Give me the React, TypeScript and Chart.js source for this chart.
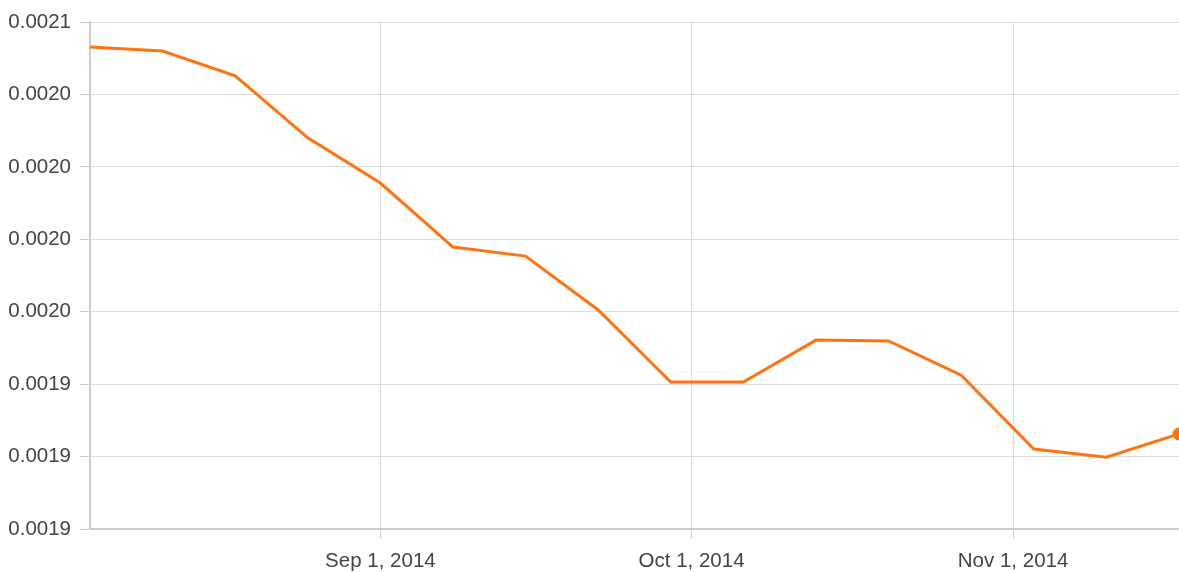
import React, { useEffect, useRef } from "react";
import { Chart, registerables } from "chart.js";

Chart.register(...registerables);

// Weekly observations starting Aug 4, 2014 (day offsets from Aug 4)
const dayOffsets = [0, 7, 14, 21, 28, 35, 42, 49, 56, 63, 70, 77, 84, 91, 98, 105];
const dateLabels = [
  "Aug 4, 2014", "Aug 11, 2014", "Aug 18, 2014", "Aug 25, 2014",
  "Sep 1, 2014", "Sep 8, 2014", "Sep 15, 2014", "Sep 22, 2014",
  "Sep 29, 2014", "Oct 6, 2014", "Oct 13, 2014", "Oct 20, 2014",
  "Oct 27, 2014", "Nov 3, 2014", "Nov 10, 2014", "Nov 17, 2014",
];
const seriesValues = [
  0.0020414, 0.00204, 0.0020314, 0.00201, 0.0019944, 0.0019723, 0.0019692, 0.0019506,
  0.0019257, 0.0019257, 0.0019402, 0.0019399, 0.0019281, 0.0019026, 0.0018998, 0.0019078,
];

const xTickDays = [28, 58, 89];
const xTickLabels = ["Sep 1, 2014", "Oct 1, 2014", "Nov 1, 2014"];

const yTickValues = [0.001875, 0.0019, 0.001925, 0.00195, 0.001975, 0.002, 0.002025, 0.00205];
const yTickLabels = ["0.0019", "0.0019", "0.0019", "0.0020", "0.0020", "0.0020", "0.0020", "0.0021"];

const FONT = "'Liberation Sans', Arial, Helvetica, sans-serif";

export default function App() {
  const canvasRef = useRef<HTMLCanvasElement | null>(null);

  useEffect(() => {
    if (!canvasRef.current) return;
    const last = seriesValues.length - 1;
    const chart = new Chart(canvasRef.current, {
      type: "line",
      data: {
        labels: dateLabels,
        datasets: [
          {
            data: dayOffsets.map((d, i) => ({ x: d, y: seriesValues[i] })),
            borderColor: "#ff7410",
            backgroundColor: "#ff7410",
            borderWidth: 3,
            tension: 0,
            pointRadius: (ctx: any) => (ctx.dataIndex === last ? 5 : 0),
            pointHoverRadius: 5,
            fill: false,
          },
        ],
      },
      options: {
        responsive: false,
        animation: false,
        layout: { autoPadding: false, padding: { top: 22, right: 0, left: 0, bottom: 0 } },
        plugins: { legend: { display: false }, tooltip: { enabled: false } },
        scales: {
          x: {
            type: "linear",
            min: 0,
            max: 105,
            afterBuildTicks: (scale: any) => {
              scale.ticks = xTickDays.map((v) => ({ value: v }));
            },
            afterFit: (scale: any) => {
              scale.height = 43;
              scale.paddingRight = 0;
              scale.paddingLeft = 0;
            },
            ticks: {
              autoSkip: false,
              maxRotation: 0,
              padding: 10,
              color: "#444",
              font: { family: FONT, size: 20.5 },
              callback: (value: any) => {
                const i = xTickDays.indexOf(Number(value));
                return i >= 0 ? xTickLabels[i] : "";
              },
            },
            grid: { color: "#dddddd", tickColor: "#cccccc", tickLength: 10, lineWidth: 1 },
            border: { color: "#cccccc", width: 2 },
          },
          y: {
            type: "linear",
            min: 0.001875,
            max: 0.00205,
            afterBuildTicks: (scale: any) => {
              scale.ticks = yTickValues.map((v) => ({ value: v }));
            },
            afterFit: (scale: any) => {
              scale.width = 90;
            },
            ticks: {
              padding: 9,
              color: "#444",
              font: { family: FONT, size: 20.5 },
              callback: (_value: any, index: number) => yTickLabels[index] ?? "",
            },
            grid: { color: "#dddddd", tickColor: "#cccccc", tickLength: 10, lineWidth: 1 },
            border: { color: "#cccccc", width: 2 },
          },
        },
      },
    });
    return () => chart.destroy();
  }, []);

  return (
    <div style={{ position: "absolute", left: 0, top: 0, width: 1179, height: 572, background: "#fff" }}>
      <canvas ref={canvasRef} width={1179} height={572} style={{ display: "block" }} />
    </div>
  );
}
